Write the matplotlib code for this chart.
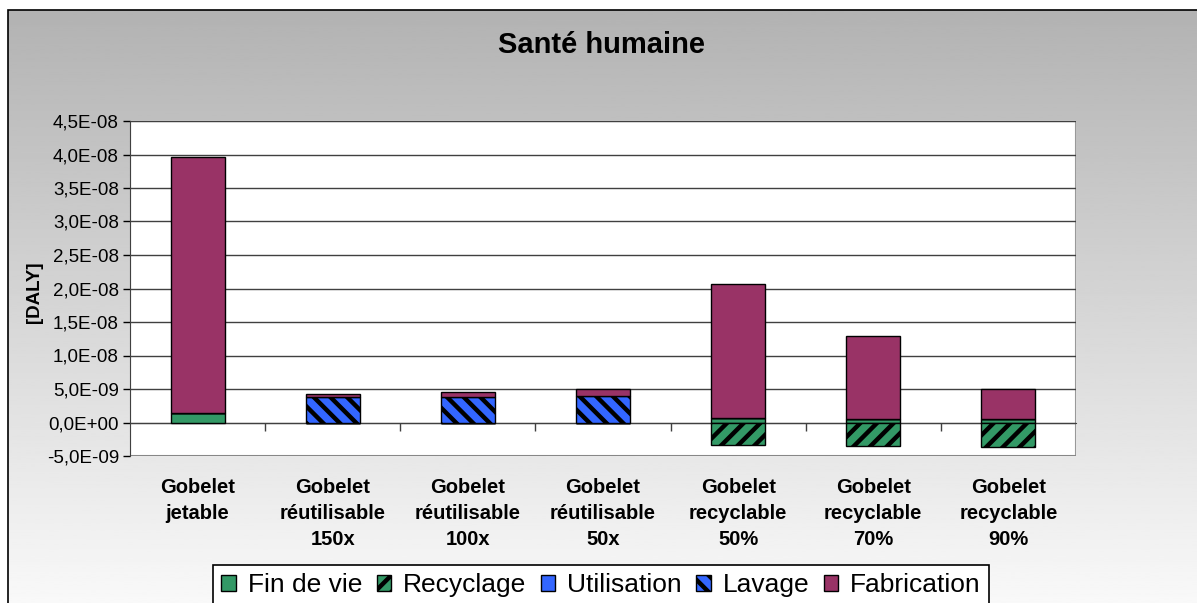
import numpy as np
import matplotlib
matplotlib.use('Agg')
import matplotlib.pyplot as plt
from matplotlib.patches import Rectangle
from matplotlib.ticker import FixedLocator, FuncFormatter


plt.rcParams['font.family'] = ['Liberation Sans', 'DejaVu Sans']
plt.rcParams['hatch.linewidth'] = 3.2

categories = ['Gobelet\njetable', 'Gobelet\nréutilisable\n150x', 'Gobelet\nréutilisable\n100x',
              'Gobelet\nréutilisable\n50x', 'Gobelet\nrecyclable\n50%', 'Gobelet\nrecyclable\n70%',
              'Gobelet\nrecyclable\n90%']
fin_de_vie = [1.4e-9, 0, 0, 0, 0.6e-9, 0.5e-9, 0.45e-9]
recyclage = [0, 0, 0, 0, -3.3e-9, -3.45e-9, -3.6e-9]
utilisation = [0, 0, 0, 0, 0, 0, 0]
lavage = [0, 3.85e-9, 3.8e-9, 3.9e-9, 0, 0, 0]
fabrication = [3.83e-8, 0.4e-9, 0.75e-9, 1.1e-9, 2.01e-8, 1.24e-8, 4.55e-9]

W, H = 1197, 603
fig = plt.figure(figsize=(W / 100, H / 100), dpi=100)

# chart area: grey-to-white gradient with black frame
bg = fig.add_axes([8 / W, 0, 1 - 8 / W, 1 - 10 / H], zorder=-10)
grad = np.linspace(0.70, 0.975, 256).reshape(-1, 1)
bg.imshow(grad, cmap='gray', vmin=0, vmax=1, aspect='auto', extent=[0, 1, 0, 1])
bg.set_axis_off()
fig.patches.append(Rectangle((8 / W, -0.01), 1.2, 1 - 10 / H + 0.01, transform=fig.transFigure,
                             fill=False, edgecolor='black', linewidth=1.2, zorder=-5))

ax = fig.add_axes([130 / W, (H - 456) / H, 946 / W, 335 / H])
ax.set_facecolor('white')

x = np.arange(len(categories))
bw = 0.4
pos_base = np.zeros(len(x))
series = [
    ('Fin de vie', fin_de_vie, '#339966', None),
    ('Recyclage', recyclage, '#339966', '//'),
    ('Utilisation', utilisation, '#3366FF', None),
    ('Lavage', lavage, '#3366FF', '\\\\'),
    ('Fabrication', fabrication, '#993366', None),
]
handles = []
neg_base = np.zeros(len(x))
for name, vals, col, hatch in series:
    vals = np.array(vals)
    base = np.where(vals >= 0, pos_base, neg_base)
    b = ax.bar(x, vals, bw, bottom=base, color=col, edgecolor='black', linewidth=1.0,
               hatch=hatch, label=name, zorder=3)
    handles.append(b)
    pos_base = pos_base + np.where(vals >= 0, vals, 0)
    neg_base = neg_base + np.where(vals < 0, vals, 0)

ax.set_xlim(-0.5, len(x) - 0.5)
ax.set_ylim(-5e-9, 4.5e-8)
ax.set_yticks(np.arange(-5e-9, 4.51e-8, 5e-9))
ax.yaxis.set_major_formatter(FuncFormatter(lambda v, p: ('%.1E' % v).replace('.', ',')))
ax.yaxis.grid(True, color='#404040', linewidth=1.0, zorder=1)
ax.tick_params(axis='y', direction='out', length=5, width=1, labelsize=13.5, colors='black', pad=3)

ax.spines['bottom'].set_position(('data', 0))
ax.spines['bottom'].set_color('#404040')
ax.spines['left'].set_color('#404040')
ax.spines['top'].set_visible(False)
ax.spines['right'].set_visible(False)
ax.add_patch(Rectangle((0, 0), 1, 1, transform=ax.transAxes, fill=False,
                       edgecolor='#999999', linewidth=1.5, zorder=0))

ax.set_xticks(x)
ax.set_xticklabels(categories, fontsize=14.5, fontweight='bold', linespacing=1.45)
ax.tick_params(axis='x', which='major', length=0, pad=40)
ax.xaxis.set_minor_locator(FixedLocator(np.arange(0.5, len(x) - 0.5, 1)))
ax.tick_params(axis='x', which='minor', direction='out', length=6, width=1, color='#404040')

fig.text(601 / W, 1 - 45 / H, 'Santé humaine', ha='center', va='center',
         fontsize=21, fontweight='bold')
fig.text(34 / W, 1 - 292 / H, '[DALY]', ha='center', va='center', rotation=90,
         fontsize=13.5, fontweight='bold')

leg = fig.legend(handles=handles, loc='upper center', bbox_to_anchor=(601 / W, 1 - 565 / H),
                 ncol=5, fontsize=19, frameon=True, fancybox=False, handlelength=0.55,
                 handleheight=0.55, handletextpad=0.45, columnspacing=0.55, borderpad=0.3,
                 borderaxespad=0)
leg.get_frame().set_edgecolor('black')
leg.get_frame().set_facecolor('white')
leg.get_frame().set_alpha(1)
leg.get_frame().set_linewidth(1.2)

fig.savefig('out.png', dpi=100)
